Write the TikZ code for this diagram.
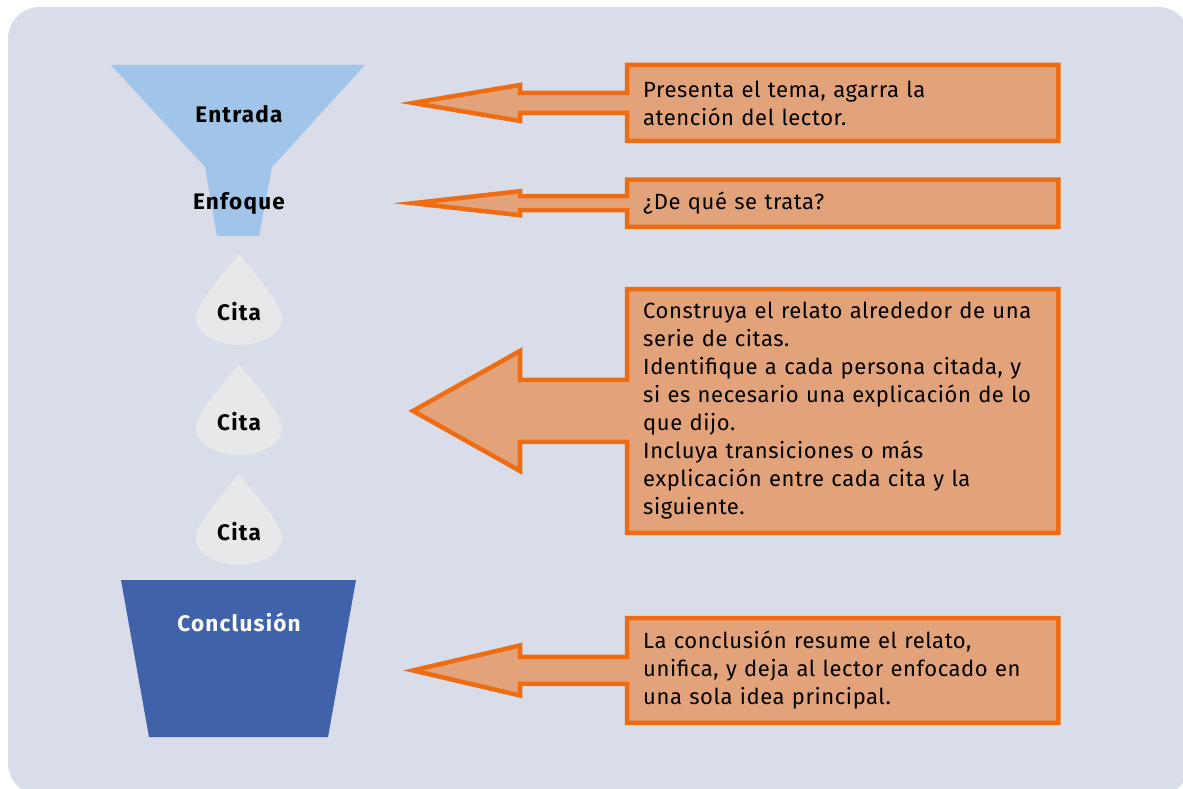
\documentclass[tikz,border=0pt]{standalone}
\usepackage{fontspec}
\setmainfont{Fira Sans}
\newfontfamily\notefont[LetterSpace=2.6]{Fira Sans}
\newfontfamily\stagefont[LetterSpace=5.5]{Fira Sans}
\usetikzlibrary{calc,backgrounds}

\definecolor{panel}{HTML}{D9DDE9}
\definecolor{funnel}{HTML}{A0C5E8}
\definecolor{dropfill}{HTML}{E8E8EA}
\definecolor{bucket}{HTML}{3F62A8}
\definecolor{edge}{HTML}{EE6C12}
\definecolor{note}{HTML}{E2A27A}

\tikzset{
  stage/.style={anchor=base, inner sep=0pt, font=\stagefont\fontsize{22.5}{24}\selectfont\bfseries},
  notebox/.style={anchor=north west, text width=399pt, minimum width=431pt,
    inner xsep=16pt, inner ysep=0pt, align=left,
    font=\notefont\fontsize{22}{28}\selectfont},
  callout/.style={fill=note, draw=edge, line width=4.5pt, line join=miter},
}

% box, tip offset, half head, half shaft
\newcommand{\pointer}[4]{%
  \filldraw[callout] (#1.north west) -- (#1.north east) -- (#1.south east)
    -- (#1.south west) -- ($(#1.west)+(0,#4)$) -- ($(#1.west)+(-107,#4)$)
    -- ($(#1.west)+(-107,#3)$) -- ($(#1.west)+(#2,0)$)
    -- ($(#1.west)+(-107,-#3)$) -- ($(#1.west)+(-107,-#4)$)
    -- ($(#1.west)+(0,-#4)$) -- cycle;
}
\newcommand{\citadrop}[1]{%
  \begin{scope}[shift={(#1.base)}]
    \fill[dropfill] (0,-66) .. controls (-8,-55) and (-43,-18) .. (-43,-2)
      .. controls (-43,15) and (-20,25) .. (0,25)
      .. controls (20,25) and (43,15) .. (43,-2)
      .. controls (43,-18) and (8,-55) .. (0,-66) -- cycle;
  \end{scope}
}

\begin{document}
\begin{tikzpicture}[x=1pt, y=-1pt]
  \useasboundingbox (0,0) rectangle (1183,789);

  % funnel labels
  \node[stage] (entrada) at (239,123) {Entrada};
  \node[stage] (enfoque) at (239,209) {Enfoque};
  \node[stage] (cita1) at (239,320) {Cita};
  \node[stage] (cita2) at (239,430) {Cita};
  \node[stage] (cita3) at (239,540) {Cita};
  \node[stage, white] (conclusion) at (239,631) {Conclusión};

  % notes
  \node[notebox, minimum height=75.5pt] (tema) at (627,65)
    {Presenta el tema, agarra la\\atención del lector.};
  \node[notebox, minimum height=47pt] (trata) at (627,179.5)
    {¿De qué se trata?};
  \node[notebox, minimum height=243.5pt] (citas) at (627,289)
    {Construya el relato alrededor de una\\serie de citas.\\
     Identifique a cada persona citada, y\\si es necesario una explicación de lo\\que dijo.\\
     Incluya transiciones o más\\explicación entre cada cita y la\\siguiente.};
  \node[notebox, minimum height=104.5pt] (cierre) at (627,618)
    {La conclusión resume el relato,\\unifica, y deja al lector enfocado en\\una sola idea principal.};

  %%%%
  \begin{scope}[on background layer]
    \fill[white] (0,0) rectangle (1183,789);
    \fill[panel, rounded corners=32pt] (8,7) rectangle (1190,795);

    \fill[funnel] (111,65) -- (365,65) -- (272,167) -- (259,236)
      -- (217,236) -- (205,167) -- cycle;
    \foreach \c in {cita1,cita2,cita3} {\citadrop{\c}}
    \fill[bucket] (121,580) -- (356,580) -- (328,737) -- (149,737) -- cycle;

    \pointer{tema}{-214}{18}{10}
    \pointer{trata}{-214}{12}{7}
    \pointer{citas}{-214}{60}{31}
    \pointer{cierre}{-214}{25}{13.5}
  \end{scope}
\end{tikzpicture}
\end{document}
